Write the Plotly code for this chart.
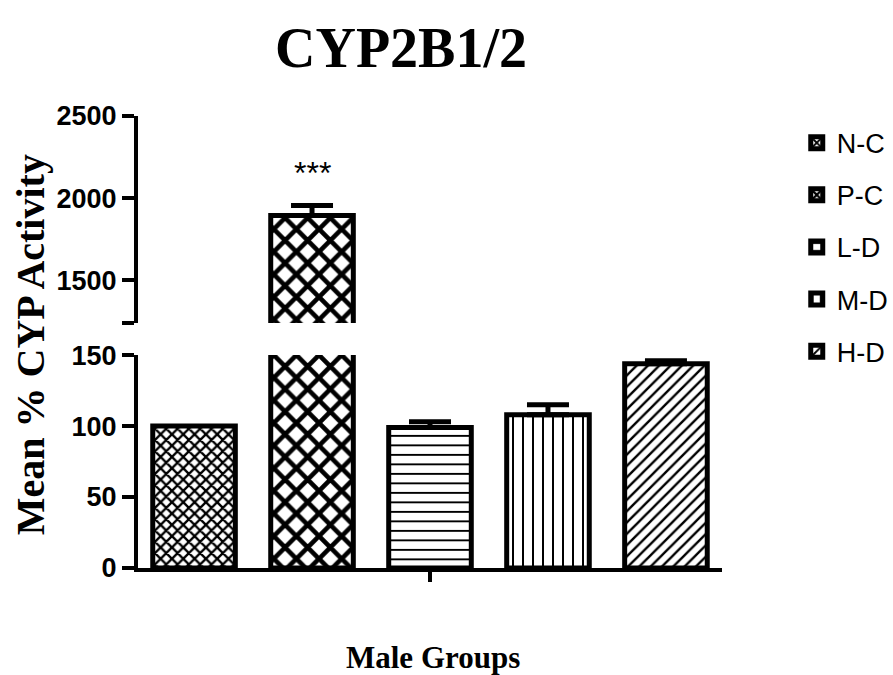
import plotly.graph_objects as go

# ---------------- data ----------------
groups = ["N-C", "P-C", "L-D", "M-D", "H-D"]
category = ["Male"]
means = [100, 1895, 99, 108, 144]
sems = [0, 60, 4, 7, 2]
significance = ["", "***", "", "", ""]
low_ticks = [0, 50, 100, 150]
high_ticks = [1240, 1500, 2000, 2500]
high_ticktext = ["", "1500", "2000", "2500"]
low_range = [0, 150]
high_range = [1240, 2500]

# ---------------- styles ----------------
patterns = [
    dict(shape="x", size=8, solidity=0.5),
    dict(shape="x", size=16, solidity=0.5),
    dict(shape="-", size=9.5, solidity=0.2),
    dict(shape="|", size=10, solidity=0.2),
    dict(shape="/", size=8, solidity=0.3),
]
BARGAP = 0.0
BARGROUPGAP = 0.3
XHALF = 0.495
SANS = "Liberation Sans, Arial, sans-serif"
SERIF = "Liberation Serif, Times New Roman, serif"

fig = go.Figure()
for axis in ["y", "y2"]:
    for i, g in enumerate(groups):
        fig.add_trace(go.Bar(
            x=category, y=[means[i]], name=g, xaxis="x", yaxis=axis,
            showlegend=(axis == "y"), legendgroup=g,
            marker=dict(color="white", line=dict(color="black", width=5),
                        pattern=dict(fgcolor="black", bgcolor="white",
                                     fillmode="replace", **patterns[i])),
            error_y=dict(type="data", array=[sems[i]], arrayminus=[0],
                         symmetric=False, color="black", thickness=5,
                         width=21, visible=sems[i] > 0),
            hoverinfo="skip",
        ))

axis_common = dict(showline=True, linewidth=4, linecolor="black",
                   ticks="outside", ticklen=12, tickwidth=4, tickcolor="black",
                   showgrid=False, zeroline=False,
                   tickfont=dict(family=SANS, size=27, color="black", weight="bold"))

fig.update_layout(
    width=893, height=675,
    margin=dict(l=138, r=171, t=116, b=107, autoexpand=False),
    paper_bgcolor="white", plot_bgcolor="white",
    barmode="group", bargap=BARGAP, bargroupgap=BARGROUPGAP,
    xaxis=dict(domain=[0, 1], anchor="y", showline=True, linewidth=4,
               linecolor="black", ticks="outside", ticklen=10, tickwidth=4,
               tickcolor="black", showticklabels=False, showgrid=False,
               range=[-XHALF, XHALF]),
    yaxis=dict(domain=[0, 0.471], anchor="x", range=low_range,
               tickvals=low_ticks, **axis_common),
    yaxis2=dict(domain=[0.542, 1], anchor="x", range=high_range,
                tickvals=high_ticks, ticktext=high_ticktext, **axis_common),
    title=dict(text="<b>CYP2B1/2</b>", x=401 / 893, xanchor="center",
               y=1 - 47 / 675, yanchor="middle", xref="container", yref="container",
               font=dict(family=SERIF, size=56, color="black")),
    legend=dict(x=1.128, y=0.994, xanchor="left", yanchor="top",
                font=dict(family=SANS, size=27, color="black"),
                tracegroupgap=14, traceorder="grouped", bgcolor="rgba(0,0,0,0)"),
    showlegend=True,
)

# axis titles
fig.add_annotation(text="<b>Mean % CYP Activity</b>", textangle=-90,
                   xref="paper", yref="paper", x=(30 - 138) / 584, y=0.493,
                   xanchor="center", yanchor="middle", showarrow=False,
                   font=dict(family=SERIF, size=40, color="black"))
fig.add_annotation(text="<b>Male Groups</b>", xref="paper", yref="paper",
                   x=0.505, y=(568 - 657) / 452, xanchor="center", yanchor="middle",
                   showarrow=False, font=dict(family=SERIF, size=31, color="black"))

# significance marks positioned from bar grouping parameters
n = len(groups)
slot = (1 - BARGAP) / n
for i, s in enumerate(significance):
    if not s:
        continue
    xc = -(1 - BARGAP) / 2 + slot * (i + 0.5)
    fig.add_annotation(text=s, x=xc, y=means[i] + sems[i], xref="x", yref="y2",
                       xanchor="center", yanchor="bottom", yshift=13,
                       showarrow=False, font=dict(family=SANS, size=32, color="black"))

fig.write_html("out.html")
